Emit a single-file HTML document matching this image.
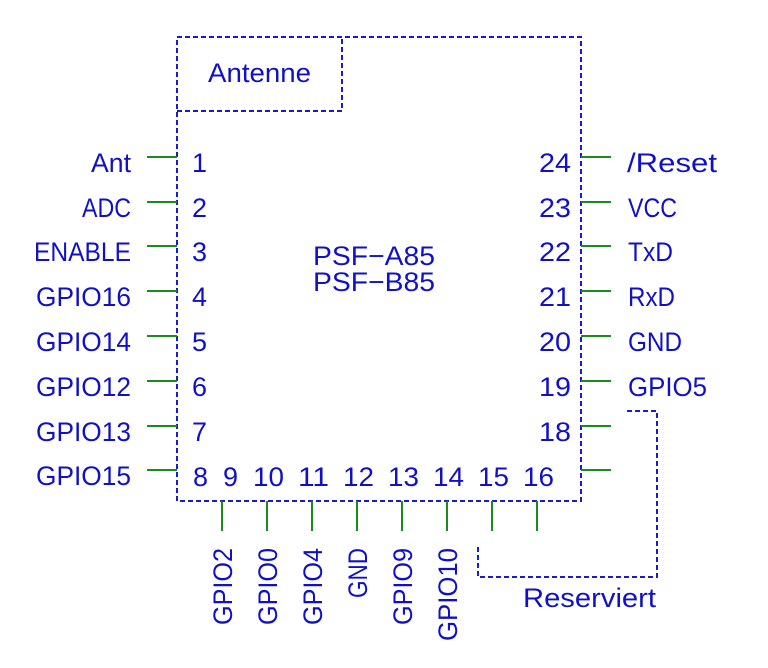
<!DOCTYPE html>
<html><head><meta charset="utf-8"><style>
html,body{margin:0;padding:0;background:#fff;}
svg{display:block;}
text{font-family:"Liberation Sans","DejaVu Sans",sans-serif;font-size:27px;fill:#1010c8;}
.g{stroke:#1a8c1a;stroke-width:2;}
.d{stroke:#1a1ad0;stroke-width:2;stroke-dasharray:5 3;fill:none;}
</style></head><body>
<svg width="768" height="668" viewBox="0 0 768 668" xmlns="http://www.w3.org/2000/svg">
<rect class="d" x="177" y="37" width="404" height="464"/>
<polyline class="d" points="177,111 342,111 342,37"/>
<polyline class="d" points="478,547 478,577 657,577 657,411 627,411"/>
<text x="208" y="82" textLength="103" lengthAdjust="spacingAndGlyphs">Antenne</text>
<text x="313" y="265" textLength="122" lengthAdjust="spacingAndGlyphs">PSF−A85</text>
<text x="313" y="291" textLength="122" lengthAdjust="spacingAndGlyphs">PSF−B85</text>
<g class="g">
<line x1="147" y1="157" x2="177" y2="157"/><line x1="147" y1="202" x2="177" y2="202"/>
<line x1="147" y1="246" x2="177" y2="246"/><line x1="147" y1="291" x2="177" y2="291"/>
<line x1="147" y1="336" x2="177" y2="336"/><line x1="147" y1="381" x2="177" y2="381"/>
<line x1="147" y1="426" x2="177" y2="426"/><line x1="147" y1="470" x2="177" y2="470"/>
<line x1="581" y1="157" x2="611" y2="157"/><line x1="581" y1="202" x2="611" y2="202"/>
<line x1="581" y1="246" x2="611" y2="246"/><line x1="581" y1="291" x2="611" y2="291"/>
<line x1="581" y1="336" x2="611" y2="336"/><line x1="581" y1="381" x2="611" y2="381"/>
<line x1="581" y1="426" x2="611" y2="426"/><line x1="581" y1="470" x2="611" y2="470"/>
<line x1="222" y1="501" x2="222" y2="531"/><line x1="267" y1="501" x2="267" y2="531"/>
<line x1="312" y1="501" x2="312" y2="531"/><line x1="357" y1="501" x2="357" y2="531"/>
<line x1="402" y1="501" x2="402" y2="531"/><line x1="447" y1="501" x2="447" y2="531"/>
<line x1="492" y1="501" x2="492" y2="531"/><line x1="537" y1="501" x2="537" y2="531"/>
</g>
<g text-anchor="end">
<text x="131" y="172" textLength="40" lengthAdjust="spacingAndGlyphs">Ant</text>
<text x="131" y="217" textLength="49" lengthAdjust="spacingAndGlyphs">ADC</text>
<text x="131" y="261" textLength="97" lengthAdjust="spacingAndGlyphs">ENABLE</text>
<text x="131" y="306" textLength="95" lengthAdjust="spacingAndGlyphs">GPIO16</text>
<text x="131" y="351" textLength="95" lengthAdjust="spacingAndGlyphs">GPIO14</text>
<text x="131" y="396" textLength="95" lengthAdjust="spacingAndGlyphs">GPIO12</text>
<text x="131" y="441" textLength="95" lengthAdjust="spacingAndGlyphs">GPIO13</text>
<text x="131" y="485" textLength="95" lengthAdjust="spacingAndGlyphs">GPIO15</text>
<text x="571" y="172" textLength="32" lengthAdjust="spacingAndGlyphs">24</text>
<text x="571" y="217" textLength="32" lengthAdjust="spacingAndGlyphs">23</text>
<text x="571" y="261" textLength="32" lengthAdjust="spacingAndGlyphs">22</text>
<text x="571" y="306" textLength="32" lengthAdjust="spacingAndGlyphs">21</text>
<text x="571" y="351" textLength="32" lengthAdjust="spacingAndGlyphs">20</text>
<text x="571" y="396" textLength="32" lengthAdjust="spacingAndGlyphs">19</text>
<text x="571" y="441" textLength="32" lengthAdjust="spacingAndGlyphs">18</text>
</g>
<text x="192" y="172">1</text><text x="192" y="217">2</text><text x="192" y="261">3</text>
<text x="192" y="306">4</text><text x="192" y="351">5</text><text x="192" y="396">6</text>
<text x="192" y="441">7</text>
<text x="627" y="172" textLength="90" lengthAdjust="spacingAndGlyphs">/Reset</text>
<text x="628" y="217" textLength="49" lengthAdjust="spacingAndGlyphs">VCC</text>
<text x="628" y="261" textLength="45" lengthAdjust="spacingAndGlyphs">TxD</text>
<text x="628" y="306" textLength="47" lengthAdjust="spacingAndGlyphs">RxD</text>
<text x="628" y="351" textLength="54" lengthAdjust="spacingAndGlyphs">GND</text>
<text x="628" y="396" textLength="79" lengthAdjust="spacingAndGlyphs">GPIO5</text>
<g>
<text x="193" y="486">8</text><text x="223" y="486">9</text>
<text x="253" y="486" textLength="31" lengthAdjust="spacingAndGlyphs">10</text>
<text x="298" y="486" textLength="31" lengthAdjust="spacingAndGlyphs">11</text>
<text x="343" y="486" textLength="31" lengthAdjust="spacingAndGlyphs">12</text>
<text x="388" y="486" textLength="31" lengthAdjust="spacingAndGlyphs">13</text>
<text x="433" y="486" textLength="31" lengthAdjust="spacingAndGlyphs">14</text>
<text x="478" y="486" textLength="31" lengthAdjust="spacingAndGlyphs">15</text>
<text x="523" y="486" textLength="31" lengthAdjust="spacingAndGlyphs">16</text>
</g>
<g text-anchor="end">
<text transform="translate(232,548) rotate(-90)" textLength="77" lengthAdjust="spacingAndGlyphs">GPIO2</text>
<text transform="translate(277,548) rotate(-90)" textLength="77" lengthAdjust="spacingAndGlyphs">GPIO0</text>
<text transform="translate(322,548) rotate(-90)" textLength="77" lengthAdjust="spacingAndGlyphs">GPIO4</text>
<text transform="translate(367,548) rotate(-90)" textLength="50" lengthAdjust="spacingAndGlyphs">GND</text>
<text transform="translate(412,548) rotate(-90)" textLength="77" lengthAdjust="spacingAndGlyphs">GPIO9</text>
<text transform="translate(457,548) rotate(-90)" textLength="93" lengthAdjust="spacingAndGlyphs">GPIO10</text>
</g>
<text x="523" y="607" textLength="133" lengthAdjust="spacingAndGlyphs">Reserviert</text>
</svg>
</body></html>
